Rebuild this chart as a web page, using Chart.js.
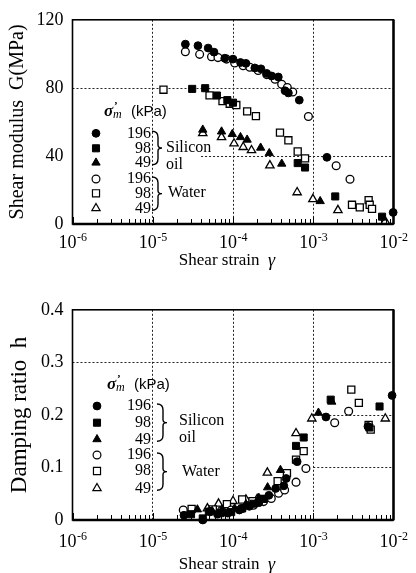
<!DOCTYPE html>
<html>
<head>
<meta charset="utf-8">
<script src="https://cdn.jsdelivr.net/npm/chart.js@4.4.1/dist/chart.umd.min.js"></script>
<style>
  html, body { margin: 0; padding: 0; background: #fff; }
  #wrap { position: relative; width: 416px; height: 573px; }
  .box { position: absolute; left: 0; width: 416px; }
  #boxG { top: 0; height: 290px; }
  #boxH { top: 290px; height: 283px; }
</style>
</head>
<body>
<div id="wrap">
  <div class="box" id="boxG"><canvas id="chartG"></canvas></div>
  <div class="box" id="boxH"><canvas id="chartH"></canvas></div>
</div>
<script>
// ── Data: [shear strain, value] ──
const xDecades = [1e-6, 1e-5, 1e-4, 1e-3, 1e-2];
const xMinor = [2, 3, 4, 5, 6, 7, 8, 9];
const gTicks = [0, 40, 80, 120];
const hTicks = [0, 0.1, 0.2, 0.3, 0.4];
const legendLabels = ['196', '98', '49', '196', '98', '49'];

// dotted horizontal guide lines: [value, strain where the line starts]
const gGuides = [[80, 1e-6], [40, 4e-5]];
const hGuides = [[0.3, 1e-6], [0.2, 1e-3], [0.1, 1e-3]];

// Shear modulus G (MPa)
const gOil196 = [[2.55e-5,105.7],[3.66e-5,104.8],[4.9e-5,103.4],[5.8e-5,101],[7.9e-5,97.4],[1.0e-4,96.9],[1.24e-4,94.9],[1.45e-4,94.4],[1.87e-4,91.7],[2.23e-4,91.2],[2.63e-4,88.5],[3.03e-4,87],[3.67e-4,86.4],[4.45e-4,78.3],[4.9e-4,77],[6.7e-4,72.8],[1.48e-3,39.2],[9.9e-3,6.8]];
const gOil98 = [[3.1e-5,79.4],[4.5e-5,79.8],[6.3e-5,75.5],[8.5e-5,72.8],[1.0e-4,71.3],[6.4e-4,35.8],[7.9e-4,33.2],[1.88e-3,16.2],[7.2e-3,4.3]];
const gOil49 = [[4.2e-5,55.4],[7.2e-5,54.3],[9.8e-5,52.8],[1.24e-4,51],[1.5e-4,49.5],[2.21e-4,44.8],[2.83e-4,41.6],[4.05e-4,35.4],[1.22e-3,13.4]];
const gWater196 = [[2.55e-5,101.2],[3.84e-5,99.7],[5.4e-5,98.3],[6.5e-5,97.8],[8.3e-5,96.9],[1.05e-4,94.6],[1.34e-4,93],[1.62e-4,92.1],[2.06e-4,90.2],[2.63e-4,87.8],[3.34e-4,85.1],[4.04e-4,82.1],[4.75e-4,80.2],[5.55e-4,77.6],[8.7e-4,63.2],[1.93e-3,34.2],[2.87e-3,26.3]];
const gWater98 = [[1.36e-5,78.9],[5.1e-5,75.6],[7.4e-5,72.2],[9.1e-5,70.7],[1.1e-4,69.9],[1.5e-4,66.2],[1.93e-4,63.4],[3.85e-4,53.7],[4.9e-4,49.2],[6.4e-4,42.6],[7.9e-4,38.6],[3.04e-3,11.3],[3.8e-3,9.8],[4.9e-3,14],[5.05e-3,11.3],[5.4e-3,8.9]];
const gWater49 = [[4.2e-5,53.3],[7.2e-5,51],[1.03e-4,47.3],[1.34e-4,45.2],[1.7e-4,43.3],[2.88e-4,34.4],[6.3e-4,18.6],[9.9e-4,14.6],[2.03e-3,8.1],[7.9e-3,1.6]];

// Damping ratio h
const hOil196 = [[2.45e-5,0.009],[4.2e-5,0.0],[6.4e-5,0.011],[8.6e-5,0.013],[1.2e-4,0.019],[1.6e-4,0.026],[2.1e-4,0.033],[2.8e-4,0.047],[3.4e-4,0.060],[4.3e-4,0.065],[4.6e-4,0.079],[6.3e-4,0.111],[1.44e-3,0.196],[4.8e-3,0.178],[9.6e-3,0.237]];
const hOil98 = [[3.0e-5,0.011],[4.2e-5,0.003],[5.0e-5,0.016],[7.0e-5,0.013],[9.5e-5,0.015],[1.3e-4,0.022],[1.8e-4,0.031],[2.4e-4,0.04],[6.1e-4,0.141],[7.6e-4,0.157],[1.65e-3,0.229],[5.0e-3,0.176],[6.7e-3,0.216]];
const hOil49 = [[3.6e-5,0.02],[5.5e-5,0.017],[7.3e-5,0.02],[1.05e-4,0.022],[1.45e-4,0.03],[2.1e-4,0.042],[2.7e-4,0.062],[3.9e-4,0.095],[1.16e-3,0.204],[1.7e-3,0.225]];
const hWater196 = [[2.4e-5,0.019],[5.2e-5,0.016],[7.2e-5,0.018],[9.5e-5,0.019],[1.3e-4,0.022],[1.8e-4,0.028],[2.4e-4,0.035],[3.0e-4,0.041],[3.7e-4,0.051],[4.4e-4,0.057],[6.1e-4,0.072],[8.1e-4,0.098],[1.85e-3,0.185],[2.76e-3,0.207]];
const hWater98 = [[3.05e-5,0.021],[5.6e-5,0.02],[8.4e-5,0.03],[1.3e-4,0.039],[1.75e-4,0.036],[2.3e-4,0.04],[3.6e-4,0.074],[4.7e-4,0.089],[6.1e-4,0.115],[7.6e-4,0.131],[2.98e-3,0.248],[3.7e-3,0.223],[4.9e-3,0.181],[5.2e-3,0.172]];
const hWater49 = [[4.8e-5,0.022],[6.6e-5,0.031],[1.0e-4,0.036],[1.45e-4,0.039],[2.0e-4,0.04],[2.68e-4,0.090],[6.1e-4,0.165],[9.6e-4,0.193],[7.9e-3,0.193]];

const SERIF = "'Liberation Serif','Times New Roman',serif";
const SANS = "'Liberation Sans',Arial,sans-serif";

// ── marker styles, same order as the legend ──
const markers = [
  { style: 'circle',   radius: 3.9, fill: '#000' },
  { style: 'rect',     radius: 5,   fill: '#000' },
  { style: 'triangle', radius: 4.8, fill: '#000' },
  { style: 'circle',   radius: 3.9, fill: '#fff' },
  { style: 'rect',     radius: 5,   fill: '#fff' },
  { style: 'triangle', radius: 4.8, fill: '#fff' },
];

function makeDatasets(series) {
  return series.map((pts, i) => ({
    label: legendLabels[i],
    data: pts.map(p => ({ x: p[0], y: p[1] })),
    pointStyle: markers[i].style,
    pointRadius: markers[i].radius,
    pointHoverRadius: markers[i].radius,
    backgroundColor: markers[i].fill,
    borderColor: '#000',
    borderWidth: markers[i].fill === '#fff' ? 1.3 : 1,
    showLine: false,
    clip: false,
  }));
}

// ── legend marker (same geometry as Chart.js points) ──
function drawMarker(ctx, m, x, y) {
  const r = m.radius;
  ctx.beginPath();
  if (m.style === 'circle') {
    ctx.arc(x, y, r, 0, Math.PI * 2);
  } else if (m.style === 'rect') {
    const s = r * Math.SQRT1_2;
    ctx.rect(x - s, y - s, 2 * s, 2 * s);
  } else {
    let a = 0;
    ctx.moveTo(x + Math.sin(a) * r, y - Math.cos(a) * r);
    a += Math.PI * 2 / 3;
    ctx.lineTo(x + Math.sin(a) * r, y - Math.cos(a) * r);
    a += Math.PI * 2 / 3;
    ctx.lineTo(x + Math.sin(a) * r, y - Math.cos(a) * r);
    ctx.closePath();
  }
  ctx.fillStyle = m.fill;
  ctx.fill();
  ctx.strokeStyle = '#000';
  ctx.lineWidth = m.fill === '#fff' ? 1.2 : 1;
  ctx.stroke();
}

function drawBrace(ctx, x, y0, y1) {
  const ym = (y0 + y1) / 2;
  ctx.beginPath();
  ctx.moveTo(x - 6, y0 - 2);
  ctx.quadraticCurveTo(x, y0 - 2, x, y0 + 4);
  ctx.lineTo(x, ym - 3);
  ctx.quadraticCurveTo(x, ym, x + 4, ym);
  ctx.quadraticCurveTo(x, ym, x, ym + 3);
  ctx.lineTo(x, y1 - 4);
  ctx.quadraticCurveTo(x, y1 + 2, x - 6, y1 + 2);
  ctx.strokeStyle = '#000';
  ctx.lineWidth = 1.4;
  ctx.stroke();
}

// ── frame, guides, inside ticks, decade labels, x title and legend ──
const paperPlugin = {
  id: 'paper',
  beforeDatasetsDraw(chart, args, o) {
    const { ctx, chartArea: a, scales: { x, y } } = chart;
    ctx.save();
    ctx.strokeStyle = '#222';
    ctx.lineWidth = 1;
    ctx.setLineDash([2, 2]);
    o.guides.forEach(([v, from]) => {
      const py = Math.round(y.getPixelForValue(v)) + 0.5;
      ctx.beginPath();
      ctx.moveTo(x.getPixelForValue(from), py);
      ctx.lineTo(a.right, py);
      ctx.stroke();
    });
    ctx.restore();
  },
  afterDraw(chart, args, o) {
    const { ctx, chartArea: a, scales: { x } } = chart;
    ctx.save();

    // inner minor ticks along the bottom axis
    ctx.strokeStyle = '#000';
    ctx.lineWidth = 1;
    for (let i = 0; i < xDecades.length - 1; i++) {
      xMinor.forEach(m => {
        const px = Math.round(x.getPixelForValue(m * xDecades[i])) + 0.5;
        ctx.beginPath();
        ctx.moveTo(px, a.bottom);
        ctx.lineTo(px, a.bottom - 5);
        ctx.stroke();
      });
      const px = Math.round(x.getPixelForValue(xDecades[i])) + 0.5;
      ctx.beginPath();
      ctx.moveTo(px, a.bottom);
      ctx.lineTo(px, a.bottom - 7);
      ctx.stroke();
    }

    // frame
    ctx.lineWidth = 1.6;
    ctx.strokeRect(a.left, a.top, a.right - a.left, a.bottom - a.top);
    ctx.lineWidth = 2.4;
    ctx.beginPath();
    ctx.moveTo(a.right, a.top);
    ctx.lineTo(a.right, a.bottom);
    ctx.moveTo(a.left, a.bottom);
    ctx.lineTo(a.right, a.bottom);
    ctx.stroke();

    // decade labels 10^n
    ctx.fillStyle = '#000';
    ctx.textBaseline = 'alphabetic';
    xDecades.forEach(v => {
      const px = x.getPixelForValue(v);
      const sup = '-' + Math.round(-Math.log10(v));
      ctx.font = `18px ${SERIF}`;
      const w1 = ctx.measureText('10').width;
      ctx.font = `12px ${SERIF}`;
      const w2 = ctx.measureText(sup).width;
      const left = px - (w1 + w2) / 2;
      ctx.font = `18px ${SERIF}`;
      ctx.fillText('10', left, o.tickBase);
      ctx.font = `12px ${SERIF}`;
      ctx.fillText(sup, left + w1 + 0.5, o.tickBase - 7);
    });

    // x title: Shear strain  γ
    ctx.font = `17px ${SERIF}`;
    const t1 = 'Shear strain  ';
    const tw1 = ctx.measureText(t1).width;
    ctx.font = `italic 18px ${SERIF}`;
    const tw2 = ctx.measureText('γ').width;
    const tx = (a.left + a.right) / 2 - 6 - (tw1 + tw2) / 2;
    ctx.font = `17px ${SERIF}`;
    ctx.fillText(t1, tx, o.titleBase);
    ctx.font = `italic 18px ${SERIF}`;
    ctx.fillText('γ', tx + tw1, o.titleBase + 1);

    // legend header σ'm (kPa)
    const L = o.legend;
    ctx.textBaseline = 'middle';
    ctx.textAlign = 'left';
    ctx.font = `italic bold 17px ${SERIF}`;
    ctx.fillText('σ', L.headX, L.headY);
    ctx.font = `bold 11px ${SERIF}`;
    ctx.fillText('\u2019', L.headX + 10, L.headY - 6);
    ctx.font = `italic 12px ${SERIF}`;
    ctx.fillText('m', L.headX + 9, L.headY + 3);
    ctx.font = `15px ${SANS}`;
    ctx.fillText('(kPa)', L.headX + 27, L.headY);

    // legend rows
    L.rows.forEach((ry, i) => {
      drawMarker(ctx, markers[i], L.markX, ry);
      ctx.fillStyle = '#000';
      ctx.font = `16px ${SERIF}`;
      ctx.textAlign = 'right';
      ctx.fillText(legendLabels[i], L.numX, ry);
    });

    // braces and group names
    drawBrace(ctx, L.braceX, L.rows[0], L.rows[2]);
    drawBrace(ctx, L.braceX, L.rows[3], L.rows[5]);
    ctx.textAlign = 'left';
    ctx.font = `16px ${SERIF}`;
    ctx.fillText('Silicon', L.oilX, L.siliconY);
    ctx.fillText('oil', L.oilX, L.oilY);
    ctx.fillText('Water', L.waterX, L.waterY);

    ctx.restore();
  }
};

function axisOptions(yMin, yMax, yEdges, yTitle, yTitleSize, xHeight) {
  return {
    x: {
      type: 'logarithmic',
      min: xDecades[0],
      max: xDecades[xDecades.length - 1],
      afterBuildTicks: s => { s.ticks = xDecades.map(v => ({ value: v })); },
      afterFit: s => { s.height = xHeight; },
      ticks: { display: false },
      grid: {
        drawTicks: false,
        lineWidth: 1,
        color: c => (c.tick && (c.tick.value === xDecades[0] || c.tick.value === xDecades[xDecades.length - 1])) ? 'rgba(0,0,0,0)' : '#222',
      },
      border: { display: false, dash: [2, 2] },
    },
    y: {
      min: yMin,
      max: yMax,
      afterBuildTicks: s => { s.ticks = yEdges.map(v => ({ value: v })); },
      afterFit: s => { s.width = 72.5; },
      ticks: { padding: 9, color: '#000', font: { family: SERIF, size: 18 } },
      grid: { drawTicks: false, color: 'rgba(0,0,0,0)' },
      border: { display: false },
      title: {
        display: true,
        text: yTitle,
        color: '#000',
        font: { family: SERIF, size: yTitleSize },
        padding: { top: 6, bottom: 0 },
      },
    },
  };
}

const commonPlugins = {
  legend: { display: false },
  tooltip: { enabled: false },
};

// ── Shear modulus chart ──
new Chart(document.getElementById('chartG'), {
  type: 'scatter',
  data: { datasets: makeDatasets([gOil196, gOil98, gOil49, gWater196, gWater98, gWater49]) },
  options: {
    responsive: true,
    maintainAspectRatio: false,
    animation: false,
    devicePixelRatio: 1,
    layout: { padding: { top: 12.5, right: 22.5, bottom: 0, left: 0 } },
    scales: axisOptions(0, 120, gTicks, 'Shear modulus  G(MPa)', 20, 66),
    plugins: {
      ...commonPlugins,
      paper: {
        guides: gGuides,
        tickBase: 248,
        titleBase: 265,
        legend: {
          headX: 104, headY: 112,
          markX: 96, numX: 151,
          rows: [133.3, 148.3, 162.7, 179, 193.3, 208.3],
          braceX: 158,
          oilX: 166, siliconY: 148, oilY: 165,
          waterX: 168, waterY: 193,
        },
      },
    },
  },
  plugins: [paperPlugin],
});

// ── Damping ratio chart ──
new Chart(document.getElementById('chartH'), {
  type: 'scatter',
  data: { datasets: makeDatasets([hOil196, hOil98, hOil49, hWater196, hWater98, hWater49]) },
  options: {
    responsive: true,
    maintainAspectRatio: false,
    animation: false,
    devicePixelRatio: 1,
    layout: { padding: { top: 19, right: 22.5, bottom: 0, left: 0 } },
    scales: axisOptions(0, 0.4, hTicks, 'Damping ratio  h', 23, 53),
    plugins: {
      ...commonPlugins,
      paper: {
        guides: hGuides,
        tickBase: 256.5,
        titleBase: 279,
        legend: {
          headX: 107, headY: 95,
          markX: 97, numX: 151,
          rows: [116, 132.7, 149.3, 165, 181, 198.3],
          braceX: 163,
          oilX: 179, siliconY: 130.7, oilY: 148,
          waterX: 182, waterY: 181.7,
        },
      },
    },
  },
  plugins: [paperPlugin],
});
</script>
</body>
</html>
